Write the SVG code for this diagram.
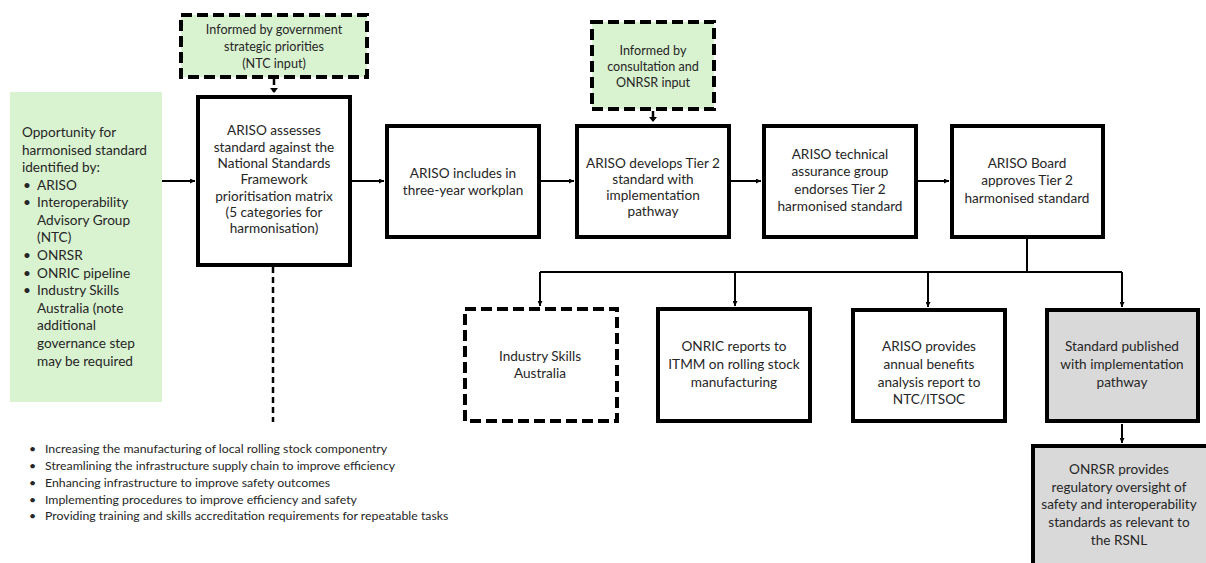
<svg xmlns="http://www.w3.org/2000/svg" width="1206" height="563" viewBox="0 0 1206 563">
<defs>
<marker id="ah" viewBox="0 0 10 10" refX="10" refY="5" markerWidth="5" markerHeight="5" markerUnits="userSpaceOnUse" orient="auto"><path d="M0,0 L10,5 L0,10 z" fill="#000"/></marker>
<style>
text{font-family:Lato,"Open Sans",sans-serif;fill:#262626;}
.t{font-size:13.6px;text-anchor:middle;}
.s{font-size:12.6px;text-anchor:middle;}
.l{font-size:13.6px;}
.b{font-size:12.3px;}
.box{fill:#fff;stroke:#000;stroke-width:4;}
.grey{fill:#d9d9d9;stroke:#000;stroke-width:4;}
.dash{fill:#d9f2d0;stroke:#000;stroke-width:4;stroke-dasharray:11,5;}
.dashw{fill:#fff;stroke:#000;stroke-width:4;stroke-dasharray:11,5;}
.c{fill:none;stroke:#000;stroke-width:2;}
.cd{fill:none;stroke:#000;stroke-width:2.5;stroke-dasharray:6,4;}
</style>
</defs>
<g id="connectors">
<line class="c" x1="162" y1="181" x2="195" y2="181" marker-end="url(#ah)"/>
<line class="c" x1="351" y1="181" x2="384" y2="181" marker-end="url(#ah)"/>
<line class="c" x1="540" y1="181" x2="574" y2="181" marker-end="url(#ah)"/>
<line class="c" x1="730" y1="181" x2="761" y2="181" marker-end="url(#ah)"/>
<line class="c" x1="917" y1="181" x2="949" y2="181" marker-end="url(#ah)"/>
<line class="cd" x1="274" y1="79" x2="274" y2="92"/>
<path d="M270,88 L278,88 L274,93 z" fill="#000"/>
<line class="cd" x1="653" y1="111" x2="653" y2="121"/>
<path d="M649,117 L657,117 L653,122 z" fill="#000"/>
<line class="cd" x1="273" y1="267" x2="273" y2="422"/>
<polyline class="c" points="1027,239 1027,272"/>
<polyline class="c" points="540,272 1122,272"/>
<line class="c" x1="540" y1="272" x2="540" y2="306" marker-end="url(#ah)"/>
<line class="c" x1="735" y1="272" x2="735" y2="306" marker-end="url(#ah)"/>
<line class="c" x1="928" y1="272" x2="928" y2="307" marker-end="url(#ah)"/>
<line class="c" x1="1122" y1="272" x2="1122" y2="307" marker-end="url(#ah)"/>
<line class="c" x1="1122" y1="424" x2="1122" y2="443" marker-end="url(#ah)"/>
</g>
<g id="n-opportunity">
<rect x="10" y="92" width="152" height="310" fill="#d9f2d0"/>
<text class="l" x="22"><tspan x="22" y="137">Opportunity for</tspan><tspan x="22" y="155">harmonised standard</tspan><tspan x="22" y="172">identified by:</tspan></text>
<text class="l"><tspan x="23" y="190">•</tspan><tspan x="37" y="190">ARISO</tspan><tspan x="23" y="207">•</tspan><tspan x="37" y="207">Interoperability</tspan><tspan x="37" y="225">Advisory Group</tspan><tspan x="37" y="242">(NTC)</tspan><tspan x="23" y="260">•</tspan><tspan x="37" y="260">ONRSR</tspan><tspan x="23" y="278">•</tspan><tspan x="37" y="278">ONRIC pipeline</tspan><tspan x="23" y="295">•</tspan><tspan x="37" y="295">Industry Skills</tspan><tspan x="37" y="313">Australia (note</tspan><tspan x="37" y="330">additional</tspan><tspan x="37" y="348">governance step</tspan><tspan x="37" y="366">may be required</tspan></text>
</g>
<g id="n-gov">
<rect class="dash" x="181" y="15" width="186" height="62"/>
<text class="s"><tspan x="274" y="34">Informed by government</tspan><tspan x="274" y="51">strategic priorities</tspan><tspan x="274" y="68">(NTC input)</tspan></text>
</g>
<g id="n-assess">
<rect class="box" x="198" y="97" width="152" height="168"/>
<text class="t"><tspan x="274" y="135">ARISO assesses</tspan><tspan x="274" y="152">standard against the</tspan><tspan x="274" y="168">National Standards</tspan><tspan x="274" y="184">Framework</tspan><tspan x="274" y="201">prioritisation matrix</tspan><tspan x="274" y="217">(5 categories for</tspan><tspan x="274" y="233">harmonisation)</tspan></text>
</g>
<g id="n-workplan">
<rect class="box" x="387" y="126" width="152" height="111"/>
<text class="t"><tspan x="463" y="178">ARISO includes in</tspan><tspan x="463" y="195">three-year workplan</tspan></text>
</g>
<g id="n-consult">
<rect class="dash" x="592" y="22" width="122" height="87"/>
<text class="s"><tspan x="653" y="55">Informed by</tspan><tspan x="653" y="71">consultation and</tspan><tspan x="653" y="87">ONRSR input</tspan></text>
</g>
<g id="n-develops">
<rect class="box" x="577" y="126" width="152" height="111"/>
<text class="t"><tspan x="653" y="168">ARISO develops Tier 2</tspan><tspan x="653" y="184">standard with</tspan><tspan x="653" y="200">implementation</tspan><tspan x="653" y="216">pathway</tspan></text>
</g>
<g id="n-technical">
<rect class="box" x="764" y="126" width="152" height="111"/>
<text class="t"><tspan x="840" y="159">ARISO technical</tspan><tspan x="840" y="176">assurance group</tspan><tspan x="840" y="194">endorses Tier 2</tspan><tspan x="840" y="211">harmonised  standard</tspan></text>
</g>
<g id="n-board">
<rect class="box" x="952" y="126" width="151" height="111"/>
<text class="t"><tspan x="1027" y="168">ARISO Board</tspan><tspan x="1027" y="185">approves Tier 2</tspan><tspan x="1027" y="203">harmonised standard</tspan></text>
</g>
<g id="n-isa">
<rect class="dashw" x="465" y="309" width="152" height="112"/>
<text class="t"><tspan x="540" y="361">Industry Skills</tspan><tspan x="540" y="378">Australia</tspan></text>
</g>
<g id="n-onric">
<rect class="box" x="658" y="309" width="152" height="112"/>
<text class="t"><tspan x="734" y="351">ONRIC reports to</tspan><tspan x="734" y="369">ITMM on rolling stock</tspan><tspan x="734" y="387">manufacturing</tspan></text>
</g>
<g id="n-benefits">
<rect class="box" x="853" y="310" width="152" height="111"/>
<text class="t"><tspan x="929" y="351">ARISO provides</tspan><tspan x="929" y="369">annual benefits</tspan><tspan x="929" y="387">analysis report to</tspan><tspan x="929" y="404">NTC/ITSOC</tspan></text>
</g>
<g id="n-published">
<rect class="grey" x="1047" y="310" width="151" height="111"/>
<text class="t"><tspan x="1122" y="351">Standard published</tspan><tspan x="1122" y="369">with implementation</tspan><tspan x="1122" y="387">pathway</tspan></text>
</g>
<g id="n-onrsr">
<rect class="grey" x="1033" y="446" width="180" height="130"/>
<text class="t"><tspan x="1119" y="474">ONRSR provides</tspan><tspan x="1119" y="492">regulatory oversight of</tspan><tspan x="1119" y="509">safety and interoperability</tspan><tspan x="1119" y="527">standards as relevant to</tspan><tspan x="1119" y="545">the RSNL</tspan></text>
</g>
<g id="categories">
<text class="b"><tspan x="29" y="453">•</tspan><tspan x="45" y="453">Increasing the manufacturing of local rolling stock componentry</tspan><tspan x="29" y="470">•</tspan><tspan x="45" y="470">Streamlining the infrastructure supply chain to improve efficiency</tspan><tspan x="29" y="487">•</tspan><tspan x="45" y="487">Enhancing infrastructure to improve safety outcomes</tspan><tspan x="29" y="504">•</tspan><tspan x="45" y="504">Implementing procedures to improve efficiency and safety</tspan><tspan x="29" y="520">•</tspan><tspan x="45" y="520">Providing training and skills accreditation requirements for repeatable tasks</tspan></text>
</g>
</svg>
